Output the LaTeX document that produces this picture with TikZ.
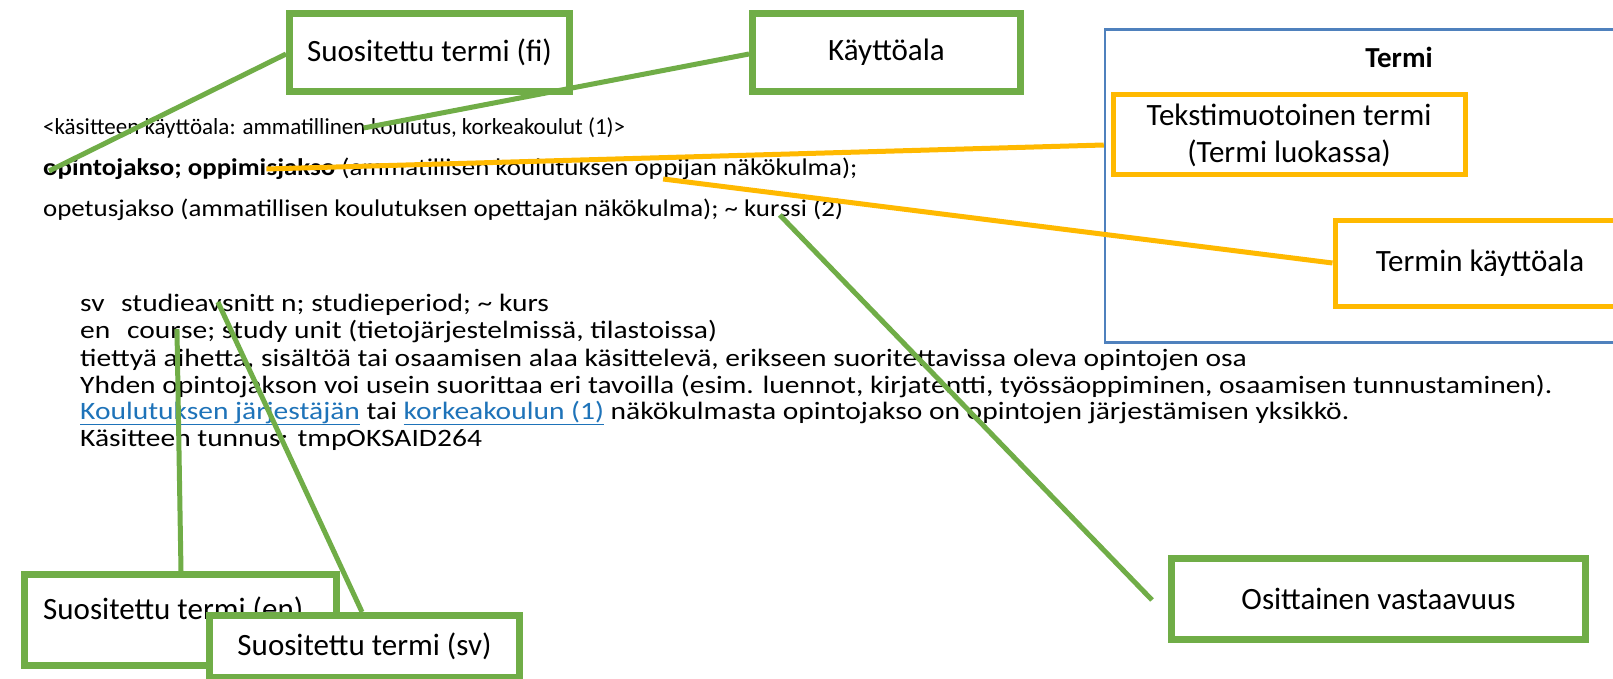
\documentclass[tikz,border=0pt]{standalone}
\usepackage{graphicx}
\usepackage{fontspec}
\setmainfont{Carlito}
\usetikzlibrary{calc}
\definecolor{gr}{RGB}{112,173,71}
\definecolor{og}{RGB}{255,185,0}
\definecolor{bl}{RGB}{79,129,189}
\definecolor{lk}{RGB}{30,115,185}
\newcommand{\lnk}[1]{\textcolor{lk}{\underline{#1}}}
\newcommand{\sa}[1]{\scalebox{1.12}[1]{#1}}
\newcommand{\sbb}[1]{\scalebox{1.18}[1]{#1}}
\begin{document}
\begin{tikzpicture}[x=1pt,y=-1pt,
  gbox/.style={draw=gr, line width=7pt, fill=white, inner sep=0pt, font=\fontsize{31}{37}\selectfont},
  obox/.style={draw=og, line width=5pt, fill=white, inner sep=0pt, font=\fontsize{31}{37}\selectfont, align=center},
  bodyA/.style={anchor=base west, inner sep=0pt, font=\fontsize{23}{27}\selectfont},
  bodyB/.style={anchor=base west, inner sep=0pt, font=\fontsize{24}{28}\selectfont},
  bodyC/.style={anchor=base west, inner sep=0pt, font=\fontsize{25}{28}\selectfont},
  gline/.style={draw=gr, line width=5pt},
  oline/.style={draw=og, line width=5pt}]
\useasboundingbox (0,0) rectangle (1613,679);
\clip (0,0) rectangle (1613,679);
\fill[white] (0,0) rectangle (1613,679);
% top text lines
\node[bodyA] (t1a) at (43,135) {<käsitteen käyttöala: ammatillinen};
\node[bodyA] (t1b) at (t1a.base east) {\ koulutus, korkeakoulut (1)>};
\node[bodyB] (t2a) at (43,176) {\sa{\textbf{opintojakso; oppimi}}};
\node[bodyB] (t2b) at (t2a.base east) {\sa{\textbf{sjakso} (ammatillisen koulutuksen op}};
\node[bodyB] (t2c) at (t2b.base east) {\sa{pijan näkökulma);}};
\node[bodyB] (t3a) at (43,216) {\sa{opetusjakso (ammatillisen koulutuksen opettajan näkökulma); \textasciitilde{} kur}};
\node[bodyB] (t3b) at (t3a.base east) {\sa{ssi (2)}};
% lower block
\node[bodyC] (s1) at (80,311) {\sbb{sv}};
\node[bodyC] (s1a) at (121,311) {\sbb{studieav}};
\node[bodyC] (s1b) at (s1a.base east) {\sbb{snitt n; studieperiod; \textasciitilde{} kurs}};
\node[bodyC] (s2) at (80,338) {\sbb{en}};
\node[bodyC] (s2a) at (127,338) {\sbb{cour}};
\node[bodyC] (s2b) at (s2a.base east) {\sbb{se; study unit (tietojärjestelmissä, tilastoissa)}};
\node[bodyC] (s3) at (80,366) {\sbb{tiettyä aihetta, sisältöä tai osaamisen alaa käsittelevä, erikseen suoritettavissa oleva opintojen osa}};
\node[bodyC] (s4) at (80,393) {\sbb{Yhden opintojakson voi usein suorittaa eri tavoilla (esim. luennot, kirjatentti, työssäoppiminen, osaamisen tunnustaminen).}};
\node[bodyC] (s5) at (80,419) {\sbb{\lnk{Koulutuksen järjestäjän} tai \lnk{korkeakoulun (1)} näkökulmasta opintojakso on opintojen järjestämisen yksikkö.}};
\node[bodyC] (s6) at (80,446) {\sbb{Käsitteen tunnus: tmpOKSAID264}};
% blue frame
\node[draw=bl, line width=2.5pt, minimum width=520pt, minimum height=313pt, inner sep=0pt] (termi) at (1365,186) {};
\node[font=\fontsize{29}{35}\selectfont\bfseries, inner sep=0pt] (termilbl) at (1399,57) {Termi};
% orange boxes
\node[obox, minimum width=352pt, minimum height=80pt] (teksti) at (1289,135) {Tekstimuotoinen termi\\(Termi luokassa)};
\node[obox, minimum width=290pt, minimum height=86pt] (kaytto) at (1480,263) {Termin käyttöala};
% anchor points in the text
\coordinate (pfi) at ($(t2a.base west)+(6,-5)$);
\coordinate (pka) at ($(t1a.base east)+(-2,-7)$);
\coordinate (pte) at ($(t2a.base east)+(0,-7)$);
\coordinate (pta) at ($(t2b.base east)+(0,3)$);
\coordinate (pos) at ($(t3a.base east)+(0,-1)$);
\coordinate (pen) at ($(s2a.base east)+(-4,-9)$);
\coordinate (psv) at ($(s1a.base east)+(-4,-9)$);
\coordinate (teend) at (termi.west |- 0,145);
\coordinate (osend) at (1152,600);
% connectors
\draw[oline] (pte) -- (teend);
\draw[oline] (pta) -- (kaytto.west);
% green boxes
\node[gbox, minimum width=280pt, minimum height=78pt] (fi) at (429.5,52.5) {Suositettu termi (fi)};
\node[gbox, minimum width=268pt, minimum height=78pt] (ka) at (886.5,52.5) {Käyttöala};
\node[gbox, minimum width=414pt, minimum height=81pt] (os) at (1378.5,599) {Osittainen vastaavuus};
\draw[gline] (fi.west |- 0,54) -- (pfi);
\draw[gline] (ka.west |- 0,54) -- (pka);
\draw[gline] (pos) -- (osend);
% bottom boxes
\node[gbox, minimum width=312pt, minimum height=91pt] (en) at (180.5,620) {};
\node[anchor=west, inner sep=0pt, font=\fontsize{31}{37}\selectfont] (entext) at (43,610) {Suositettu termi (en)};
\draw[gline] (pen) -- (en.north -| 181,0);
\node[gbox, minimum width=310pt, minimum height=62pt] (sv) at (364.5,646.5) {Suositettu termi (sv)};
\draw[gline] (psv) -- (sv.north -| 362,0);
\end{tikzpicture}
\end{document}
